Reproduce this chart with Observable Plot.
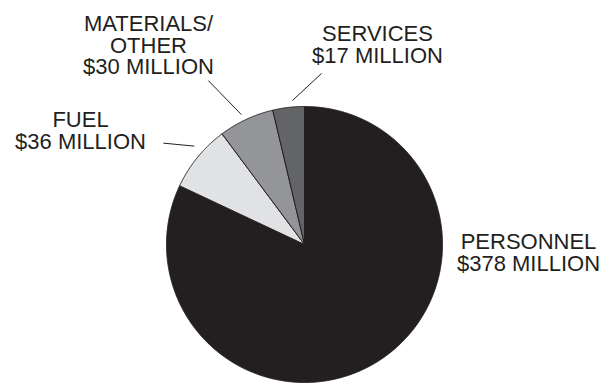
<!DOCTYPE html>
<html>
<head>
<meta charset="utf-8">
<script src="https://cdn.jsdelivr.net/npm/d3@7"></script>
<script src="https://cdn.jsdelivr.net/npm/@observablehq/plot@0.6"></script>
<style>
  html, body { margin: 0; padding: 0; background: #fff; }
  #chart svg { display: block; overflow: visible; }
</style>
</head>
<body>
<div id="chart"></div>
<script>
// Operating cost categories, in millions of dollars
const categories = ["PERSONNEL", "FUEL", "MATERIALS/\nOTHER", "SERVICES"];
const values = [378, 36, 30, 17];
const valueLabels = values.map(v => `$${v} MILLION`);
const fills = ["#231f20", "#e1e2e3", "#939598", "#636466"];

// Pie geometry (pixel space of the plot)
const cx = 304, cy = 244, radius = 138;
const ink = "#231f20";
const fontSize = 22;

// Callout layout: text anchor (centre x, top y), leader start as a
// fraction across the slice and a radius factor, leader end offset
const callouts = [
  {tx: 528, ty: 233.5, leader: false},
  {tx: 80,  ty: 111.5, leader: true, t: 0.59, rf: 1.07,  dx: -31, dy: -3},
  {tx: 148, ty: 15.5,  leader: true, t: 0.46, rf: 1.047, dx: -33, dy: -34},
  {tx: 377, ty: 25.5,  leader: true, t: 0.64, rf: 1.047, dx: 29,  dy: -27}
];

const slices = categories.map((c, i) => ({category: c, value: values[i], label: `${c}\n${valueLabels[i]}`}));
const arcs = d3.pie().sort(null).value(d => d.value)(slices);

const polar = (angle, r) => ({x: cx + r * Math.sin(angle), y: cy - r * Math.cos(angle)});

// Each slice as a closed polygon: centre -> arc -> centre
const wedges = arcs.flatMap(a => {
  const span = a.endAngle - a.startAngle;
  const n = Math.max(2, Math.ceil(span / 0.005));
  const pts = [{category: a.data.category, ...polar(0, 0)}];
  for (let i = 0; i <= n; i++) {
    pts.push({category: a.data.category, ...polar(a.startAngle + span * i / n, radius)});
  }
  pts.push({category: a.data.category, ...polar(0, 0)});
  return pts;
});

const labels = arcs.map((a, i) => ({label: a.data.label, x: callouts[i].tx, y: callouts[i].ty}));

const leaders = arcs.map((a, i) => {
  const c = callouts[i];
  if (!c.leader) return null;
  const s = polar(a.startAngle + (a.endAngle - a.startAngle) * c.t, radius * c.rf);
  return {x1: s.x, y1: s.y, x2: s.x + c.dx, y2: s.y + c.dy};
}).filter(Boolean);

const chart = Plot.plot({
  width: 613,
  height: 383,
  margin: 0,
  style: {background: "#fff", overflow: "visible"},
  x: {type: "linear", domain: [0, 613], range: [0, 613], axis: null},
  y: {type: "linear", domain: [0, 383], range: [0, 383], axis: null},
  color: {type: "ordinal", domain: categories, range: fills},
  marks: [
    Plot.line(wedges, {
      x: "x", y: "y", z: "category", fill: "category",
      stroke: ink, strokeWidth: 1, strokeLinejoin: "round", curve: "linear"
    }),
    Plot.link(leaders, {x1: "x1", y1: "y1", x2: "x2", y2: "y2", stroke: ink, strokeWidth: 1}),
    Plot.text(labels, {
      x: "x", y: "y", text: "label",
      textAnchor: "middle", lineAnchor: "top", lineHeight: 0.98,
      fontSize, fontFamily: "'Liberation Sans', Arial, sans-serif",
      fill: ink
    })
  ]
});

document.getElementById("chart").append(chart);
</script>
</body>
</html>
